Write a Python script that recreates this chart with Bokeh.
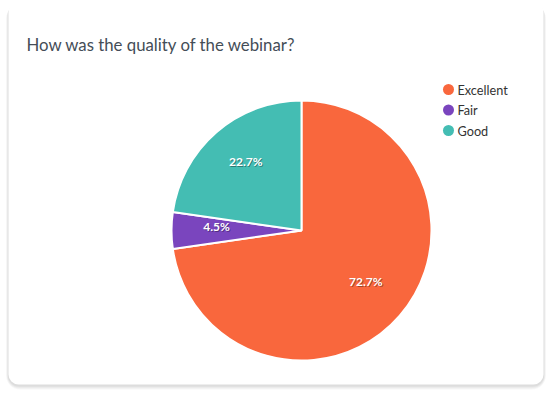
import math
from bokeh.plotting import figure
from bokeh.models import Range1d, BoxAnnotation
from bokeh.core.properties import value
from bokeh.embed import file_html
from bokeh.resources import INLINE

# ---- data ----
title = "How was the quality of the webinar?"
categories = ["Excellent", "Fair", "Good"]
counts = [16, 1, 5]
colors = ["#F9673D", "#7A45BE", "#44BDB3"]

W, H = 551, 399
p = figure(width=W, height=H, output_backend="svg", toolbar_location=None,
           x_range=Range1d(0, W), y_range=Range1d(0, H),
           min_border=0, outline_line_color=None,
           background_fill_color="white", border_fill_color="white")
p.axis.visible = False
p.grid.visible = False

# ---- card with soft shadow ----
cl, cr, ct, cb = 8, 543, H - 2, H - 384
for i, a in enumerate([0.03, 0.03, 0.035, 0.04]):
    g = 4 - i
    p.add_layout(BoxAnnotation(left=cl - g * 0.6, right=cr + g * 0.6,
                               top=ct - 1 - g * 0.3, bottom=cb - 1 - g,
                               fill_color="black", fill_alpha=a, line_color=None,
                               border_radius=10 + g, level="underlay"))
p.add_layout(BoxAnnotation(left=cl, right=cr, top=ct, bottom=cb,
                           fill_color="white", fill_alpha=1, line_color=None,
                           border_radius=10, level="underlay"))

# ---- title ----
p.text(x=[26], y=[H - 44], text=[title], text_font=value("Lato"),
       text_font_size="16.8px", text_color="#444D57", text_baseline="alphabetic")

# ---- pie ----
cx, cy, R = 301, H - 230, 130
total = sum(counts)
starts, ends, mids, pcts = [], [], [], []
cum = 0.0
for c in counts:
    s = math.pi / 2 - cum / total * 2 * math.pi
    cum += c
    e = math.pi / 2 - cum / total * 2 * math.pi
    starts.append(s)
    ends.append(e)
    mids.append((s + e) / 2)
    pcts.append(f"{c / total * 100:.1f}%")

p.wedge(x=cx, y=cy, radius=R, start_angle=starts, end_angle=ends,
        direction="clock", fill_color=colors, line_color="white", line_width=2)

lr = 85
lx = [cx + lr * math.cos(m) for m in mids]
ly = [cy + lr * math.sin(m) for m in mids]
p.text(x=lx, y=ly, text=pcts, text_font=value("Lato"), text_font_style="bold",
       text_font_size="12px", text_color="black", text_alpha=0.35,
       text_align="center", text_baseline="middle", x_offset=1, y_offset=-3.5)
p.text(x=lx, y=ly, text=pcts, text_font=value("Lato"), text_font_style="bold",
       text_font_size="12px", text_color="white",
       text_align="center", text_baseline="middle", y_offset=-4.5)

# ---- legend ----
leg_x, leg_y0, leg_dy = 448, H - 89, 20.5
leg_y = [leg_y0 - i * leg_dy for i in range(len(categories))]
p.scatter(x=[leg_x] * len(categories), y=leg_y, size=11, marker="circle",
          fill_color=colors, line_color=None)
p.text(x=[leg_x + 9] * len(categories), y=leg_y, text=categories,
       text_font=value("Lato"), text_font_size="12.7px", text_color="#333333",
       text_baseline="middle")

open("out.html", "w").write(file_html(p, INLINE))
